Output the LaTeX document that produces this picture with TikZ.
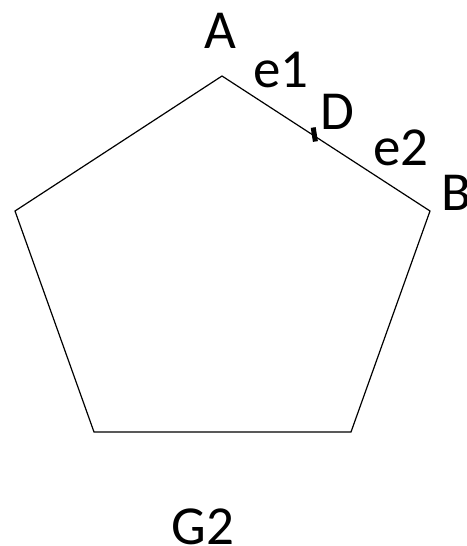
\documentclass[tikz,border=0pt]{standalone}
\usepackage{fontspec}
\setmainfont{Carlito}
\begin{document}
\begin{tikzpicture}[x=1pt,y=-1pt,
  lbl/.style={inner sep=0pt,font=\fontsize{55}{60}\selectfont},
  edge/.style={line width=1.2pt,black}]
\useasboundingbox[fill=white] (0,0) rectangle (466,546);
\coordinate (A) at (222,76);
\coordinate (B) at (430,211);
\coordinate (C) at (351,432);
\coordinate (E) at (94,432);
\coordinate (F) at (15,211);
\coordinate (D1) at (313.2,127.5);
\coordinate (D2) at (315.4,141.5);
\draw[edge,line join=miter] (A) -- (B) -- (C) -- (E) -- (F) -- cycle;
\draw[line width=5pt] (D1) -- (D2);
\node[lbl,anchor=base] (la) at (220,48) {A};
\node[lbl,anchor=base] (le1) at (281,87) {e1};
\node[lbl,anchor=base] (ld) at (337,129) {D};
\node[lbl,anchor=base] (le2) at (401,165) {e2};
\node[lbl,anchor=base west] (lb) at (441,210) {B};
\node[lbl,anchor=base] (lg) at (203,544) {G2};
\end{tikzpicture}
\end{document}
